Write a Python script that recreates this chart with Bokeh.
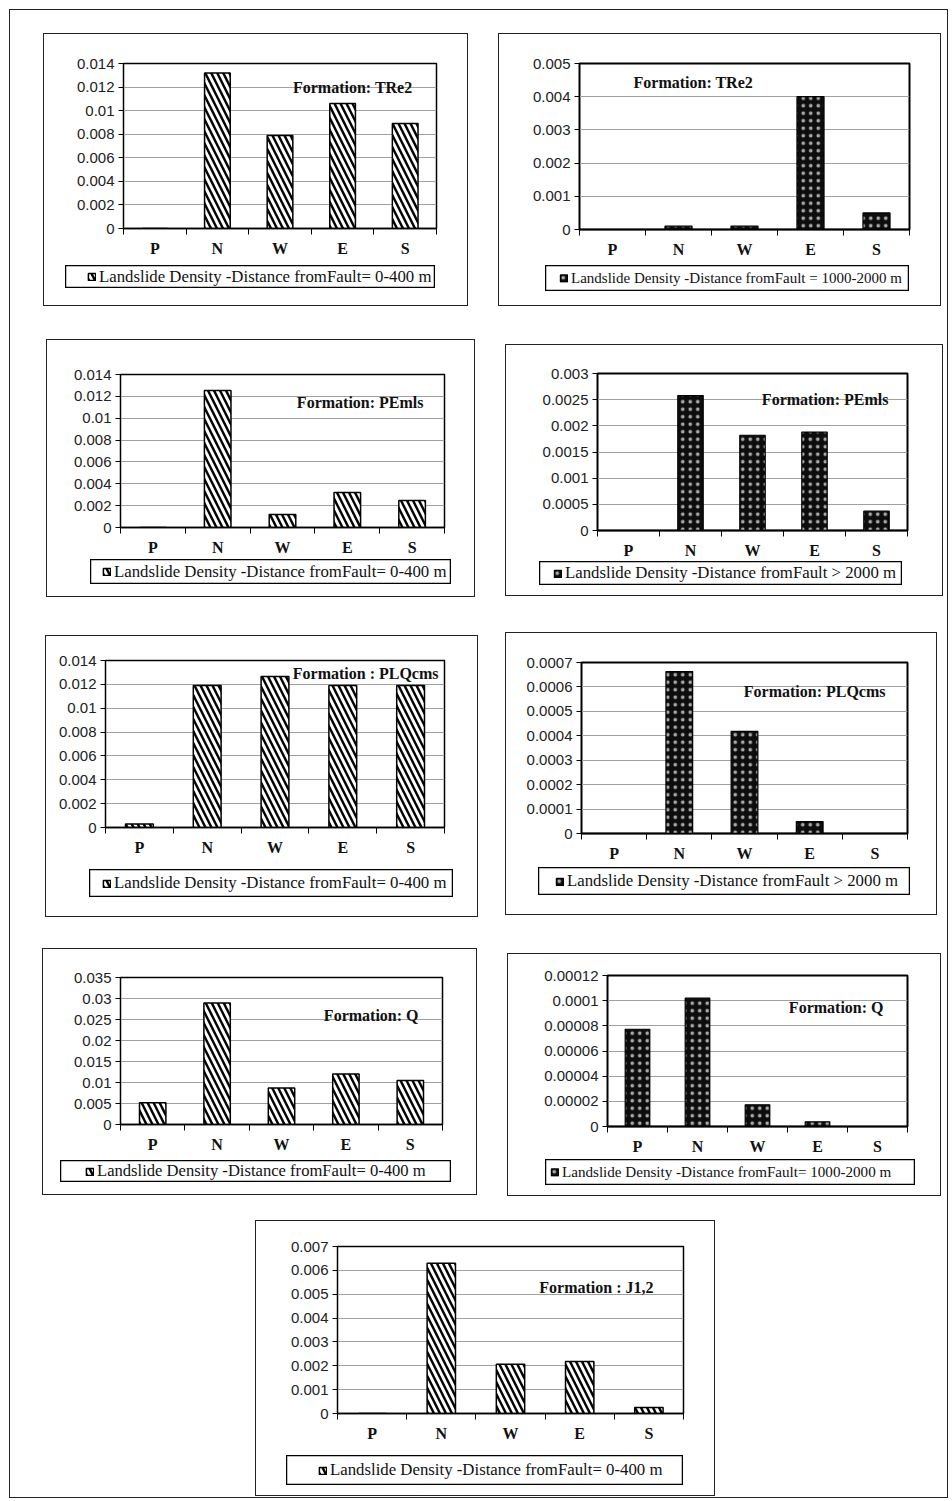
from bokeh.plotting import figure
from bokeh.models import Range1d, FixedTicker, Label, Legend, LegendItem, Spacer
from bokeh.layouts import row, column
from bokeh.embed import file_html
from bokeh.resources import INLINE

# ---------------- data ----------------
categories = ["P", "N", "W", "E", "S"]

tre2_near = [0.0, 0.0132, 0.0079, 0.0106, 0.0089]
tre2_far = [0.0, 0.0001, 0.0001, 0.0040, 0.0005]
pemls_near = [0.0, 0.01254, 0.0012, 0.0032, 0.00247]
pemls_far = [0.0, 0.00258, 0.00182, 0.00188, 0.00037]
plq_near = [0.0003, 0.0119, 0.01266, 0.0119, 0.0119]
plq_far = [0.0, 0.000663, 0.000418, 0.000049, 0.0]
q_near = [0.0052, 0.0289, 0.0087, 0.0120, 0.0105]
q_mid = [0.0000773, 0.000102, 0.0000173, 0.0000037, 0.0]
j12_near = [0.0, 0.0063, 0.00206, 0.00218, 0.00025]

ticks_014 = ["0", "0.002", "0.004", "0.006", "0.008", "0.01", "0.012", "0.014"]
ticks_005 = ["0", "0.001", "0.002", "0.003", "0.004", "0.005"]
ticks_003 = ["0", "0.0005", "0.001", "0.0015", "0.002", "0.0025", "0.003"]
ticks_0007 = ["0", "0.0001", "0.0002", "0.0003", "0.0004", "0.0005", "0.0006", "0.0007"]
ticks_035 = ["0", "0.005", "0.01", "0.015", "0.02", "0.025", "0.03", "0.035"]
ticks_00012 = ["0", "0.00002", "0.00004", "0.00006", "0.00008", "0.0001", "0.00012"]
ticks_007 = ["0", "0.001", "0.002", "0.003", "0.004", "0.005", "0.006", "0.007"]

title_tre2 = "Formation: TRe2"
title_pemls = "Formation: PEmls"
title_plq_left = "Formation : PLQcms"
title_plq_right = "Formation: PLQcms"
title_q = "Formation: Q"
title_j12 = "Formation : J1,2"

leg_near = "Landslide Density -Distance fromFault= 0-400 m"
leg_far_a = "Landslide Density -Distance fromFault = 1000-2000 m"
leg_far_b = "Landslide Density -Distance fromFault > 2000 m"
leg_mid = "Landslide Density -Distance fromFault= 1000-2000 m"

# ---------------- styling ----------------
SERIF = "Liberation Serif"
SANS = "Liberation Sans"
BORDER = "1px solid #222"


def bar_style(kind):
    if kind == "hatch":
        return dict(fill_color="white", line_color="black", line_width=1.5,
                    hatch_pattern="left_diagonal_line", hatch_color="black",
                    hatch_scale=12, hatch_weight=2.4)
    return dict(fill_color="#0d0d0d", line_color="black", line_width=1.2,
                hatch_pattern="dot", hatch_color="#a8a8a8",
                hatch_scale=7.5, hatch_weight=0.5)


def make_panel(values, ticks, title, legend_label, kind, geo):
    bx0, by0, bx1, by1 = geo["box"]
    fx0, fy0, fx1, fy1 = geo["frame"]
    lx0, ly0, lx1, ly1 = geo["legend"]
    cx0, cy0 = bx0 + 1, by0 + 1          # content origin inside the panel border
    cw = bx1 - bx0 - 2
    n = len(categories)
    tick_vals = [float(t) for t in ticks]
    xs = [i + 0.5 for i in range(n)]

    chart_h = ly0 - cy0
    p = figure(width=cw, height=chart_h, output_backend="svg", toolbar_location=None,
               x_range=Range1d(0, n), y_range=Range1d(0, tick_vals[-1]),
               min_border_left=fx0 - cx0, min_border_right=(bx1 - 1) - fx1,
               min_border_top=fy0 - cy0, min_border_bottom=ly0 - fy1,
               border_fill_color=None, background_fill_color="white")
    p.outline_line_color = "black"
    p.outline_line_width = 2 if kind == "dots" else 1.5

    p.vbar(x=xs, top=values, width=0.41, bottom=0, **bar_style(kind))

    xa = p.xaxis[0]
    xa.ticker = FixedTicker(ticks=xs, minor_ticks=[float(i) for i in range(n + 1)])
    xa.major_label_overrides = {x: c for x, c in zip(xs, categories)}
    xa.major_tick_line_color = None
    xa.major_tick_out = 6
    xa.major_tick_in = 0
    xa.minor_tick_line_color = "black"
    xa.minor_tick_out = 6
    xa.minor_tick_in = 0
    xa.axis_line_color = "black"
    xa.axis_line_width = 1.5
    xa.major_label_text_font = SERIF
    xa.major_label_text_font_style = "bold"
    xa.major_label_text_font_size = "16px"
    xa.major_label_text_color = "#111111"
    xa.major_label_standoff = 5

    ya = p.yaxis[0]
    ya.ticker = FixedTicker(ticks=tick_vals, minor_ticks=[])
    ya.major_label_overrides = {v: t for v, t in zip(tick_vals, ticks)}
    ya.major_tick_out = 5
    ya.major_tick_in = 0
    ya.major_tick_line_color = "black"
    ya.minor_tick_line_color = None
    ya.axis_line_color = "black"
    ya.major_label_text_font = SANS
    ya.major_label_text_font_size = "15px"
    ya.major_label_text_color = "#222222"
    ya.major_label_standoff = 4

    p.xgrid.visible = False
    p.ygrid.grid_line_color = "#a0a0a0"
    p.ygrid.grid_line_width = 1

    tx, ty = geo["title"]
    p.add_layout(Label(x=tx, y=ty, x_units="screen", y_units="screen",
                       text=title, text_font=SERIF, text_font_style="bold",
                       text_font_size="16px", text_color="#111111",
                       text_align=geo["title_align"], text_baseline="middle"))

    # legend box: its own small figure so that nothing clips it
    lg = figure(width=lx1 - lx0, height=ly1 - ly0, output_backend="svg",
                toolbar_location=None, x_axis_type=None, y_axis_type=None,
                x_range=Range1d(0, n), y_range=Range1d(0, tick_vals[-1]),
                min_border=0, border_fill_color=None, background_fill_color="white")
    lg.outline_line_color = "black"
    lg.outline_line_width = 1.5
    lg.xgrid.visible = False
    lg.ygrid.visible = False
    key = lg.vbar(x=xs, top=values, width=0.41, bottom=0, visible=False, **bar_style(kind))
    lg.add_layout(Legend(items=[LegendItem(label=legend_label, renderers=[key])],
                         location="left", margin=geo["glyph_off"], padding=0,
                         border_line_color=None, background_fill_alpha=0,
                         label_text_font=SERIF, label_text_font_size=geo["leg_font"],
                         label_text_color="#111111", glyph_width=9, glyph_height=9,
                         label_standoff=3, label_height=9))

    body = column(p,
                  row(Spacer(width=lx0 - cx0, height=1), lg),
                  Spacer(width=10, height=(by1 - 1) - ly1),
                  styles={"border": BORDER})
    return body


G = {
    "p1": dict(box=(43, 33, 468, 306), frame=(123, 63, 436, 228), legend=(65, 265, 435, 288),
               title=(289, 141), title_align="right", glyph_off=22, leg_font="16.8px"),
    "p2": dict(box=(498, 33, 941, 306), frame=(579, 63, 909, 229), legend=(545, 265, 909, 291),
               title=(54, 147), title_align="left", glyph_off=14, leg_font="15px"),
    "p3": dict(box=(46, 339, 475, 597), frame=(120, 374, 444, 527), legend=(90, 559, 451, 584),
               title=(303, 125), title_align="right", glyph_off=12, leg_font="16.8px"),
    "p4": dict(box=(505, 344, 943, 596), frame=(597, 373, 907, 531), legend=(539, 561, 902, 585),
               title=(291, 131), title_align="right", glyph_off=14, leg_font="16.8px"),
    "p5": dict(box=(45, 635, 478, 917), frame=(105, 660, 444, 827), legend=(89, 869, 453, 897),
               title=(333, 154), title_align="right", glyph_off=13, leg_font="16.8px"),
    "p6": dict(box=(505, 632, 937, 915), frame=(581, 662, 907, 833), legend=(538, 867, 910, 895),
               title=(304, 142), title_align="right", glyph_off=17, leg_font="16.8px"),
    "p7": dict(box=(42, 948, 477, 1195), frame=(120, 977, 442, 1124), legend=(60, 1160, 451, 1182),
               title=(298, 109), title_align="right", glyph_off=25, leg_font="16.6px"),
    "p8": dict(box=(507, 953, 941, 1196), frame=(607, 975, 907, 1126), legend=(545, 1159, 915, 1185),
               title=(276, 119), title_align="right", glyph_off=5, leg_font="15.1px"),
    "p9": dict(box=(255, 1220, 715, 1496), frame=(337, 1246, 683, 1413), legend=(286, 1455, 683, 1485),
               title=(316, 126), title_align="right", glyph_off=32, leg_font="16.8px"),
}

panels = {
    "p1": make_panel(tre2_near, ticks_014, title_tre2, leg_near, "hatch", G["p1"]),
    "p2": make_panel(tre2_far, ticks_005, title_tre2, leg_far_a, "dots", G["p2"]),
    "p3": make_panel(pemls_near, ticks_014, title_pemls, leg_near, "hatch", G["p3"]),
    "p4": make_panel(pemls_far, ticks_003, title_pemls, leg_far_b, "dots", G["p4"]),
    "p5": make_panel(plq_near, ticks_014, title_plq_left, leg_near, "hatch", G["p5"]),
    "p6": make_panel(plq_far, ticks_0007, title_plq_right, leg_far_b, "dots", G["p6"]),
    "p7": make_panel(q_near, ticks_035, title_q, leg_near, "hatch", G["p7"]),
    "p8": make_panel(q_mid, ticks_00012, title_q, leg_mid, "dots", G["p8"]),
    "p9": make_panel(j12_near, ticks_007, title_j12, leg_near, "hatch", G["p9"]),
}

ORIGIN = (10, 10)
INNER_W = 937
INNER_BOTTOM = 1497
rows_def = [["p1", "p2"], ["p3", "p4"], ["p5", "p6"], ["p7", "p8"], ["p9"]]

children = [Spacer(width=INNER_W, height=0)]
cursor_y = ORIGIN[1]
for names in rows_def:
    top = min(G[n]["box"][1] for n in names)
    bottom = max(G[n]["box"][3] for n in names)
    children.append(Spacer(width=10, height=top - cursor_y))
    items = []
    cx = ORIGIN[0]
    for n in names:
        box = G[n]["box"]
        items.append(Spacer(width=box[0] - cx, height=1))
        dy = box[1] - top
        if dy > 0:
            items.append(column(Spacer(width=10, height=dy), panels[n]))
        else:
            items.append(panels[n])
        cx = box[2]
    children.append(row(*items))
    cursor_y = bottom
children.append(Spacer(width=10, height=INNER_BOTTOM - cursor_y))

framed = column(*children, styles={"border": BORDER})
page = column(Spacer(width=10, height=ORIGIN[1] - 1),
              row(Spacer(width=ORIGIN[0] - 1, height=10), framed))

open("out.html", "w").write(file_html(page, INLINE))
